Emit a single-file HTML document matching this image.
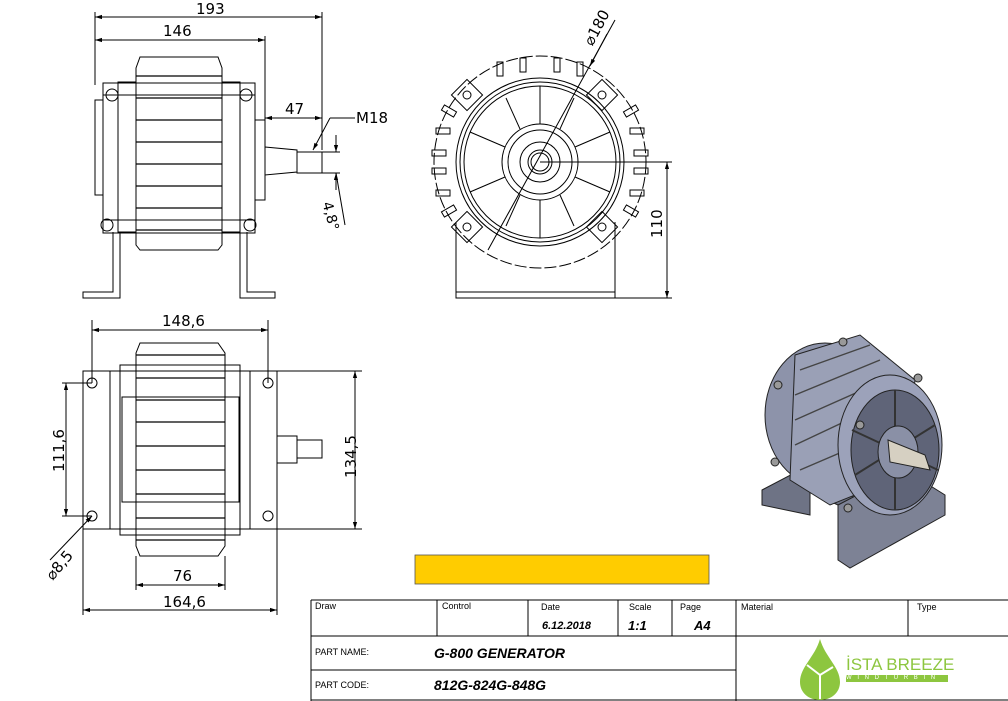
<!DOCTYPE html>
<html><head><meta charset="utf-8"><style>
html,body{margin:0;padding:0;background:#fff;}
svg{display:block;font-family:"DejaVu Sans","Liberation Sans",sans-serif;}
</style></head><body>
<svg width="1008" height="701" viewBox="0 0 1008 701" xmlns="http://www.w3.org/2000/svg">
<defs>
<marker id="a" viewBox="0 0 10 10" refX="10" refY="5" markerWidth="9" markerHeight="7" orient="auto-start-reverse"><path d="M0,2 L10,5 L0,8z" fill="#000"/></marker>
</defs>
<rect width="1008" height="701" fill="#fff"/>
<g fill="none" stroke="#000" stroke-width="1">
<!-- ===== side view ===== -->
<line x1="95" y1="12" x2="95" y2="85"/><line x1="322" y1="12" x2="322" y2="150"/>
<line x1="95" y1="17" x2="322" y2="17" marker-start="url(#a)" marker-end="url(#a)"/>
<line x1="265" y1="36" x2="265" y2="120"/>
<line x1="95" y1="40" x2="265" y2="40" marker-start="url(#a)" marker-end="url(#a)"/>
<line x1="265" y1="118" x2="322" y2="118" marker-start="url(#a)" marker-end="url(#a)"/>
<rect x="95" y="100" width="8" height="95"/>
<rect x="103" y="83" width="152" height="150"/>
<rect x="255" y="120" width="10" height="80"/>
<rect x="118" y="82" width="18" height="150"/>
<rect x="222" y="82" width="18" height="150"/>
<path d="M136,68 L140,57 L218,57 L222,68 L222,245 L218,250 L140,250 L136,245 Z"/>
<g stroke-width="1.3">
<line x1="136" y1="76" x2="222" y2="76"/><line x1="136" y1="98" x2="222" y2="98"/>
<line x1="136" y1="120" x2="222" y2="120"/><line x1="136" y1="142" x2="222" y2="142"/>
<line x1="136" y1="164" x2="222" y2="164"/><line x1="136" y1="186" x2="222" y2="186"/>
<line x1="136" y1="208" x2="222" y2="208"/><line x1="136" y1="230" x2="222" y2="230"/>
</g>
<line x1="103" y1="95" x2="255" y2="95"/><line x1="103" y1="220" x2="255" y2="220"/>
<circle cx="112" cy="95" r="6"/><circle cx="246" cy="95" r="6"/>
<circle cx="107" cy="225" r="6"/><circle cx="250" cy="225" r="6"/>
<path d="M113,232 L113,292 L83,292 L83,298 L120,298 L120,232"/>
<path d="M240,232 L240,298 L275,298 L275,292 L247,292 L247,232"/>
<path d="M265,147 L297,150 L297,172 L265,175 Z"/>
<rect x="297" y="152" width="25" height="21"/>
<line x1="322" y1="152" x2="340" y2="152"/><line x1="322" y1="173" x2="340" y2="173"/>
<line x1="336" y1="135" x2="336" y2="152" marker-end="url(#a)"/>
<line x1="336" y1="190" x2="336" y2="173" marker-end="url(#a)"/>
<line x1="336" y1="173" x2="345" y2="225"/>
<path d="M355,118 L330,118"/><line x1="330" y1="118" x2="313" y2="150" marker-end="url(#a)"/>
<!-- ===== front view ===== -->
<circle cx="540" cy="162" r="106" stroke-dasharray="12 3"/>
<circle cx="540" cy="162" r="84"/><circle cx="540" cy="162" r="80"/><circle cx="540" cy="162" r="76"/>
<circle cx="540" cy="162" r="38"/><circle cx="540" cy="162" r="32"/>
<circle cx="540" cy="162" r="20"/><circle cx="540" cy="162" r="12"/><circle cx="540" cy="162" r="9"/>
<line x1="540" y1="124" x2="540" y2="86"/><line x1="540" y1="200" x2="540" y2="238"/>
<line x1="505" y1="147" x2="470" y2="132"/><line x1="575" y1="147" x2="610" y2="132"/>
<line x1="505" y1="177" x2="470" y2="192"/><line x1="575" y1="177" x2="610" y2="192"/>
<line x1="520" y1="129" x2="506" y2="98"/><line x1="560" y1="129" x2="574" y2="98"/>
<line x1="520" y1="195" x2="506" y2="226"/><line x1="560" y1="195" x2="574" y2="226"/>
<rect x="456" y="84" width="22" height="22" transform="rotate(45 467 95)"/><circle cx="467" cy="95" r="4"/>
<rect x="591" y="84" width="22" height="22" transform="rotate(45 602 95)"/><circle cx="602" cy="95" r="4"/>
<rect x="456" y="216" width="22" height="22" transform="rotate(45 467 227)"/><circle cx="467" cy="227" r="4"/>
<rect x="591" y="216" width="22" height="22" transform="rotate(45 602 227)"/><circle cx="602" cy="227" r="4"/>
<rect x="432" y="150" width="14" height="6"/><rect x="432" y="168" width="14" height="6"/>
<rect x="634" y="150" width="14" height="6"/><rect x="634" y="168" width="14" height="6"/>
<rect x="436" y="128" width="14" height="6"/><rect x="436" y="190" width="14" height="6"/>
<rect x="630" y="128" width="14" height="6"/><rect x="630" y="190" width="14" height="6"/>
<rect x="442" y="108" width="14" height="6" transform="rotate(30 449 111)"/>
<rect x="624" y="108" width="14" height="6" transform="rotate(-30 631 111)"/>
<rect x="442" y="208" width="14" height="6" transform="rotate(-30 449 211)"/>
<rect x="624" y="208" width="14" height="6" transform="rotate(30 631 211)"/>
<rect x="520" y="58" width="6" height="14"/><rect x="554" y="58" width="6" height="14"/>
<rect x="497" y="62" width="6" height="14"/><rect x="577" y="62" width="6" height="14"/>
<path d="M456,222 L456,298 L615,298 L615,222"/>
<line x1="456" y1="292" x2="615" y2="292"/>
<line x1="540" y1="162" x2="672" y2="162"/><line x1="615" y1="298" x2="672" y2="298"/>
<line x1="667" y1="162" x2="667" y2="298" marker-start="url(#a)" marker-end="url(#a)"/>
<line x1="488" y1="250" x2="615" y2="20"/>
<line x1="607" y1="34" x2="590" y2="66" marker-end="url(#a)"/>
<!-- ===== bottom view ===== -->
<line x1="92" y1="320" x2="92" y2="383"/><line x1="268" y1="320" x2="268" y2="383"/>
<line x1="92" y1="330" x2="268" y2="330" marker-start="url(#a)" marker-end="url(#a)"/>
<line x1="277" y1="371" x2="362" y2="371"/><line x1="277" y1="529" x2="362" y2="529"/>
<line x1="355" y1="371" x2="355" y2="529" marker-start="url(#a)" marker-end="url(#a)"/>
<line x1="62" y1="383" x2="92" y2="383"/><line x1="62" y1="516" x2="92" y2="516"/>
<line x1="66" y1="383" x2="66" y2="516" marker-start="url(#a)" marker-end="url(#a)"/>
<line x1="83" y1="529" x2="83" y2="615"/><line x1="277" y1="529" x2="277" y2="615"/>
<line x1="83" y1="610" x2="277" y2="610" marker-start="url(#a)" marker-end="url(#a)"/>
<line x1="136" y1="556" x2="136" y2="590"/><line x1="225" y1="556" x2="225" y2="590"/>
<line x1="136" y1="585" x2="225" y2="585" marker-start="url(#a)" marker-end="url(#a)"/>
<line x1="50" y1="560" x2="92" y2="516" marker-end="url(#a)"/>
<rect x="83" y="371" width="194" height="158"/>
<rect x="110" y="371" width="140" height="158"/>
<rect x="120" y="365" width="120" height="170"/>
<rect x="122" y="397" width="117" height="105"/>
<path d="M136,353 L140,343 L218,343 L225,353 L225,546 L218,556 L140,556 L136,546 Z"/>
<g stroke-width="1.3">
<line x1="136" y1="355" x2="225" y2="355"/><line x1="136" y1="378" x2="225" y2="378"/>
<line x1="136" y1="400" x2="225" y2="400"/><line x1="136" y1="422" x2="225" y2="422"/>
<line x1="136" y1="446" x2="225" y2="446"/><line x1="136" y1="470" x2="225" y2="470"/>
<line x1="136" y1="494" x2="225" y2="494"/><line x1="136" y1="518" x2="225" y2="518"/>
<line x1="136" y1="540" x2="225" y2="540"/>
</g>
<circle cx="92" cy="383" r="5"/><circle cx="268" cy="383" r="5"/>
<circle cx="92" cy="516" r="5"/><circle cx="268" cy="516" r="5"/>
<rect x="277" y="436" width="20" height="27"/><rect x="297" y="440" width="25" height="18"/>
<!-- ===== title block ===== -->
<line x1="311" y1="600" x2="1008" y2="600"/>
<line x1="311" y1="636" x2="1008" y2="636"/>
<line x1="311" y1="670" x2="736" y2="670"/>
<line x1="311" y1="700" x2="1008" y2="700"/>
<line x1="311" y1="600" x2="311" y2="701"/>
<line x1="437" y1="600" x2="437" y2="636"/><line x1="528" y1="600" x2="528" y2="636"/>
<line x1="618" y1="600" x2="618" y2="636"/><line x1="672" y1="600" x2="672" y2="636"/>
<line x1="736" y1="600" x2="736" y2="701"/><line x1="908" y1="600" x2="908" y2="636"/>
</g>
<rect x="415" y="555" width="294" height="29" fill="#ffcc00" stroke="#555" stroke-width="0.8"/>
<!-- 3D render -->
<g stroke="#222" stroke-width="1">
<path d="M762,490 L800,470 L860,500 L860,540 L838,552 L838,505 L810,492 L810,515 L762,505 Z" fill="#6e7385"/>
<path d="M838,505 L905,470 L945,495 L945,515 L850,568 L838,560 Z" fill="#7d8295"/>
<ellipse cx="825" cy="415" rx="60" ry="72" fill="#8d93aa"/>
<path d="M795,355 L860,335 L915,380 L905,475 L830,505 L790,480 Z" fill="#9aa0b6"/>
<g stroke="#444" stroke-width="1.4"><line x1="800" y1="370" x2="870" y2="345"/><line x1="795" y1="395" x2="880" y2="360"/><line x1="795" y1="420" x2="885" y2="380"/><line x1="795" y1="445" x2="880" y2="405"/><line x1="800" y1="470" x2="870" y2="440"/></g>
<ellipse cx="890" cy="445" rx="52" ry="70" fill="#9ca2ba"/>
<ellipse cx="895" cy="450" rx="44" ry="60" fill="#5f6478"/>
<g stroke="#333" stroke-width="2"><line x1="895" y1="390" x2="895" y2="510"/><line x1="852" y1="430" x2="938" y2="470"/><line x1="855" y1="475" x2="935" y2="425"/></g>
<ellipse cx="898" cy="452" rx="20" ry="26" fill="#8a90a6"/>
<path d="M888,440 L925,455 L930,470 L890,462 Z" fill="#d6d0c2"/>
<circle cx="778" cy="385" r="4" fill="#999"/><circle cx="843" cy="342" r="4" fill="#999"/>
<circle cx="918" cy="378" r="4" fill="#999"/><circle cx="775" cy="462" r="4" fill="#999"/>
<circle cx="848" cy="508" r="4" fill="#999"/><circle cx="860" cy="425" r="4" fill="#999"/>
</g>
</svg>
<div style="position:absolute;left:0;top:0;width:1008px;height:701px;font-family:'DejaVu Sans','Liberation Sans',sans-serif;">
<div style="position:absolute;left:196px;top:0px;font-size:15px;">193</div>
<div style="position:absolute;left:163px;top:22px;font-size:15px;">146</div>
<div style="position:absolute;left:285px;top:100px;font-size:15px;">47</div>
<div style="position:absolute;left:356px;top:109px;font-size:15px;">M18</div>
<div style="position:absolute;left:334px;top:200px;font-size:14px;transform:rotate(75deg);transform-origin:left top;">4,8°</div>
<div style="position:absolute;left:580px;top:40px;font-size:15px;transform:rotate(-62deg);transform-origin:left top;">⌀180</div>
<div style="position:absolute;left:648px;top:238px;font-size:15px;transform:rotate(-90deg);transform-origin:left top;">110</div>
<div style="position:absolute;left:162px;top:312px;font-size:15px;">148,6</div>
<div style="position:absolute;left:342px;top:478px;font-size:15px;transform:rotate(-90deg);transform-origin:left top;">134,5</div>
<div style="position:absolute;left:50px;top:472px;font-size:15px;transform:rotate(-90deg);transform-origin:left top;">111,6</div>
<div style="position:absolute;left:42px;top:572px;font-size:15px;transform:rotate(-50deg);transform-origin:left top;">⌀8,5</div>
<div style="position:absolute;left:173px;top:567px;font-size:15px;">76</div>
<div style="position:absolute;left:163px;top:593px;font-size:15px;">164,6</div>
</div>
<div style="position:absolute;left:0;top:0;width:1008px;height:701px;font-family:'Liberation Sans',sans-serif;">
<div style="position:absolute;left:315px;top:601px;font-size:9px;">Draw</div>
<div style="position:absolute;left:442px;top:601px;font-size:9px;">Control</div>
<div style="position:absolute;left:541px;top:602px;font-size:9px;">Date</div>
<div style="position:absolute;left:629px;top:602px;font-size:9px;">Scale</div>
<div style="position:absolute;left:680px;top:602px;font-size:9px;">Page</div>
<div style="position:absolute;left:741px;top:602px;font-size:9px;">Material</div>
<div style="position:absolute;left:917px;top:602px;font-size:9px;">Type</div>
<div style="position:absolute;left:542px;top:620px;font-size:11px;font-style:italic;font-weight:bold;">6.12.2018</div>
<div style="position:absolute;left:628px;top:618px;font-size:13px;font-style:italic;font-weight:bold;">1:1</div>
<div style="position:absolute;left:694px;top:618px;font-size:13px;font-style:italic;font-weight:bold;">A4</div>
<div style="position:absolute;left:315px;top:647px;font-size:9px;">PART NAME:</div>
<div style="position:absolute;left:434px;top:645px;font-size:14px;font-style:italic;font-weight:bold;">G-800 GENERATOR</div>
<div style="position:absolute;left:315px;top:680px;font-size:9px;">PART CODE:</div>
<div style="position:absolute;left:434px;top:677px;font-size:14px;font-style:italic;font-weight:bold;">812G-824G-848G</div>
<svg style="position:absolute;left:795px;top:637px;" width="50" height="64"><path d="M25,2 C20,20 5,30 5,45 C5,56 14,63 25,63 C36,63 45,56 45,45 C45,30 30,20 25,2Z" fill="#8dc63f"/><line x1="25" y1="38" x2="25" y2="62" stroke="#fff" stroke-width="2"/><line x1="25" y1="38" x2="12" y2="28" stroke="#fff" stroke-width="2"/><line x1="25" y1="38" x2="38" y2="30" stroke="#fff" stroke-width="2"/></svg>
<div style="position:absolute;left:846px;top:655px;font-size:17px;color:#8dc63f;">İSTA BREEZE</div>
<div style="position:absolute;left:846px;top:675px;width:102px;height:7px;background:#8dc63f;color:#fff;font-size:6px;line-height:7px;letter-spacing:2px;">W I N D T U R B I N</div>
</div>
</body></html>
